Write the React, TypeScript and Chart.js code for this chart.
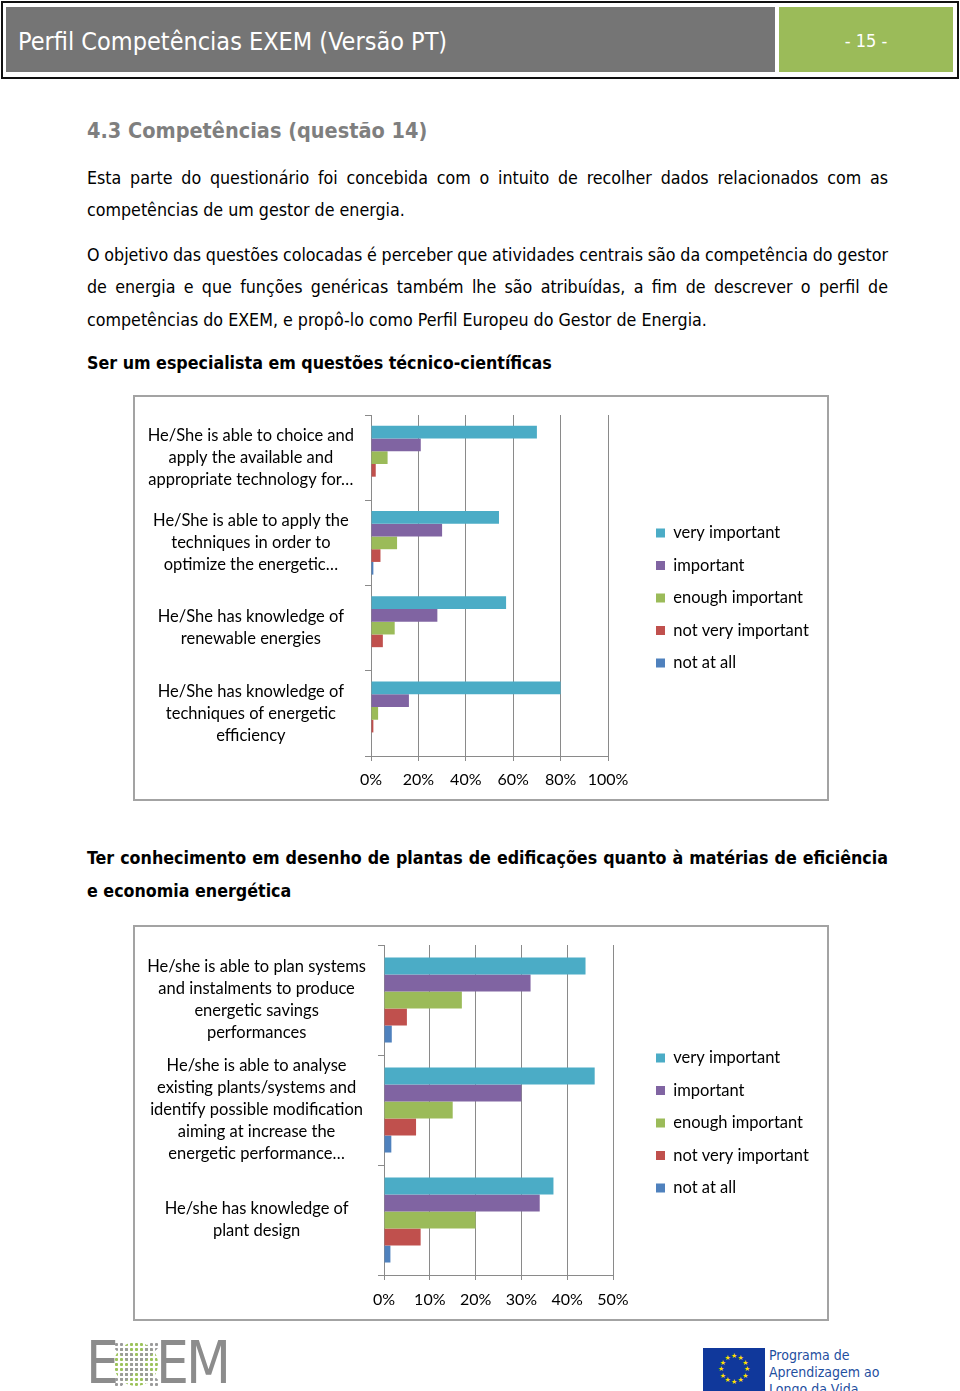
import React, { useEffect, useRef } from "react";
import { Chart, registerables } from "chart.js";

Chart.register(...registerables);

// ---------- data ----------
const SERIES = ["very important", "important", "enough important", "not very important", "not at all"];
const COLORS = ["#4BACC6", "#8064A2", "#9BBB59", "#C0504D", "#4F81BD"];

const CATEGORIES_1 = [
  ["He/She is able to choice and", "apply the available and", "appropriate technology for…"],
  ["He/She is able to apply the", "techniques in order to", "optimize the energetic…"],
  ["He/She has knowledge of", "renewable energies"],
  ["He/She has knowledge of", "techniques of energetic", "efficiency"],
];
const VERY_1 = [70, 54, 57, 80];
const IMPORTANT_1 = [21, 30, 28, 16];
const ENOUGH_1 = [7, 11, 10, 3];
const NOT_VERY_1 = [2, 4, 5, 1];
const NOT_AT_ALL_1 = [0, 1, 0, 0];
const TICKS_1 = [0, 20, 40, 60, 80, 100];

const CATEGORIES_2 = [
  ["He/she is able to plan systems", "and instalments to produce", "energetic savings", "performances"],
  ["He/she is able to analyse", "existing plants/systems and", "identify possible modification", "aiming at increase the", "energetic performance…"],
  ["He/she has knowledge of", "plant design"],
];
const VERY_2 = [44, 46, 37];
const IMPORTANT_2 = [32, 30, 34];
const ENOUGH_2 = [17, 15, 20];
const NOT_VERY_2 = [5, 7, 8];
const NOT_AT_ALL_2 = [1.7, 1.6, 1.4];
const TICKS_2 = [0, 10, 20, 30, 40, 50];

// ---------- chart helpers ----------
const GRID = "#8a8a8a";
const CHART_FONT = "Lato, 'Open Sans', sans-serif";
const LABEL_SIZE = 16.5;
const TICK_SIZE = 16;

type Cfg = {
  labels: string[][];
  values: number[][];
  ticks: number[];
  height: number;
  top: number;
  plotTop: number;
  plotLeft: number;
  plotBottom: number;
  padRight: number;
  catPct: number;
  yPad: number;
  xPad: number;
  legendLeft: number;
  legendCenter: number;
};

function buildConfig(cfg: Cfg): any {
  const legendPad = 32.5 - LABEL_SIZE;
  const placer = {
    id: "legendPlacer",
    afterLayout(chart: any) {
      const lg = chart.legend;
      if (!lg) return;
      lg.left = cfg.legendLeft - legendPad;
      lg.right = chart.width;
      lg.width = lg.right - lg.left;
      lg.top = cfg.legendCenter - LABEL_SIZE / 2 - legendPad;
      lg.bottom = chart.height;
      lg.height = lg.bottom - lg.top;
    },
  };
  return {
    type: "bar",
    data: {
      labels: cfg.labels,
      datasets: SERIES.map((name, i) => ({
        label: name,
        data: cfg.values[i],
        backgroundColor: COLORS[i],
        borderWidth: 0,
        categoryPercentage: cfg.catPct,
        barPercentage: 1,
      })),
    },
    options: {
      indexAxis: "y",
      animation: false,
      responsive: false,
      maintainAspectRatio: false,
      layout: { padding: { top: cfg.plotTop, right: cfg.padRight, bottom: 0, left: 0 } },
      scales: {
        x: {
          min: cfg.ticks[0],
          max: cfg.ticks[cfg.ticks.length - 1],
          afterBuildTicks: (s: any) => {
            s.ticks = cfg.ticks.map((v) => ({ value: v }));
          },
          afterFit: (s: any) => {
            s.height = cfg.height - cfg.plotBottom;
            s.paddingLeft = 0;
            s.paddingRight = 0;
          },
          ticks: {
            callback: (v: any) => v + "%",
            font: { family: CHART_FONT, size: TICK_SIZE },
            color: "#000",
            padding: cfg.xPad,
            maxRotation: 0,
            autoSkip: false,
          },
          grid: { color: GRID, tickLength: 5, drawTicks: true },
          border: { color: GRID },
        },
        y: {
          afterFit: (s: any) => {
            s.width = cfg.plotLeft;
            s.paddingTop = 0;
            s.paddingBottom = 0;
          },
          ticks: {
            crossAlign: "center",
            font: { family: CHART_FONT, size: LABEL_SIZE, lineHeight: "22px" },
            color: "#000",
            padding: cfg.yPad,
            autoSkip: false,
          },
          grid: { drawOnChartArea: false, tickLength: 6, color: GRID, offset: true },
          border: { color: GRID },
        },
      },
      plugins: {
        legend: {
          position: "right",
          align: "start",
          maxWidth: 100,
          labels: {
            boxWidth: 9,
            boxHeight: 9,
            padding: legendPad,
            color: "#000",
            font: { family: CHART_FONT, size: LABEL_SIZE },
          },
        },
        tooltip: { enabled: false },
      },
    },
    plugins: [placer],
  };
}

function BarChart({ cfg }: { cfg: Cfg }) {
  const ref = useRef<HTMLCanvasElement | null>(null);
  useEffect(() => {
    if (!ref.current) return;
    const chart = new Chart(ref.current, buildConfig(cfg));
    return () => chart.destroy();
  }, []);
  return (
    <div
      style={{
        position: "absolute",
        left: 133,
        top: cfg.top - 2,
        width: 692,
        height: cfg.height,
        border: "2px solid #a3a3a3",
        background: "#fff",
      }}
    >
      <canvas ref={ref} width={692} height={cfg.height} style={{ display: "block", width: 692, height: cfg.height }} />
    </div>
  );
}

const CFG_1: Cfg = {
  labels: CATEGORIES_1,
  values: [VERY_1, IMPORTANT_1, ENOUGH_1, NOT_VERY_1, NOT_AT_ALL_1],
  ticks: TICKS_1,
  height: 402,
  top: 397,
  plotTop: 18,
  plotLeft: 236,
  plotBottom: 359,
  padRight: 119,
  catPct: 0.745,
  yPad: 11,
  xPad: 9,
  legendLeft: 521,
  legendCenter: 136,
};

const CFG_2: Cfg = {
  labels: CATEGORIES_2,
  values: [VERY_2, IMPORTANT_2, ENOUGH_2, NOT_VERY_2, NOT_AT_ALL_2],
  ticks: TICKS_2,
  height: 392,
  top: 927,
  plotTop: 18,
  plotLeft: 249,
  plotBottom: 348,
  padRight: 114,
  catPct: 0.773,
  yPad: 12,
  xPad: 10,
  legendLeft: 521,
  legendCenter: 131,
};

// ---------- page text ----------
const BODY_FONT = "'DejaVu Sans Condensed', 'DejaVu Sans', sans-serif";

function Line({
  y,
  text,
  size = 17.7,
  bold = false,
  justify = false,
  color = "#000",
}: {
  y: number;
  text: string;
  size?: number;
  bold?: boolean;
  justify?: boolean;
  color?: string;
}) {
  return (
    <div
      style={{
        position: "absolute",
        left: 87,
        top: y - 12,
        width: 801,
        height: 24,
        lineHeight: "24px",
        fontFamily: BODY_FONT,
        fontSize: size,
        fontWeight: bold ? 700 : 400,
        color,
        whiteSpace: "nowrap",
        wordSpacing: justify ? "-2px" : "normal",
        textAlign: justify ? "justify" : "left",
        textAlignLast: justify ? "justify" : "left",
      } as any}
    >
      {text}
    </div>
  );
}

function EULogo() {
  const stars = [];
  for (let i = 0; i < 12; i++) {
    const a = (i / 12) * Math.PI * 2;
    stars.push(
      <span
        key={i}
        style={{
          position: "absolute",
          left: 31 + Math.sin(a) * 13 - 3,
          top: 21 - Math.cos(a) * 13 - 4,
          fontSize: 7,
          lineHeight: "8px",
          color: "#ffe000",
          fontFamily: "'DejaVu Sans', sans-serif",
        }}
      >
        ★
      </span>
    );
  }
  return (
    <div style={{ position: "absolute", left: 703, top: 1348, width: 62, height: 46, background: "#10389b" }}>{stars}</div>
  );
}

function ExemLogo() {
  const letter: React.CSSProperties = {
    position: "absolute",
    top: 1330,
    fontFamily: "'DejaVu Sans Condensed', sans-serif",
    fontWeight: 300,
    fontSize: 58,
    lineHeight: "66px",
    color: "#8c8c8c",
  };
  return (
    <>
      <div style={{ ...letter, left: 86 }}>E</div>
      <div
        style={{
          position: "absolute",
          left: 114,
          top: 1342,
          width: 44,
          height: 44,
          borderRadius: "50%",
          backgroundImage: "radial-gradient(circle, #9cc35a 1.3px, transparent 1.8px)",
          backgroundSize: "5px 5px",
        }}
      />
      <div
        style={{
          position: "absolute",
          left: 114,
          top: 1342,
          width: 44,
          height: 44,
          backgroundImage: "radial-gradient(circle, #9a9a9a 1.3px, transparent 1.8px)",
          backgroundSize: "5px 5px",
          clipPath:
            "polygon(0 0, 18% 0, 50% 36%, 82% 0, 100% 0, 100% 14%, 64% 50%, 100% 86%, 100% 100%, 82% 100%, 50% 64%, 18% 100%, 0 100%, 0 86%, 36% 50%, 0 14%)",
        }}
      />
      <div style={{ ...letter, left: 156, letterSpacing: -3 }}>EM</div>
    </>
  );
}

export default function App() {
  return (
    <div
      style={{
        position: "absolute",
        left: 0,
        top: 0,
        width: 960,
        height: 1391,
        overflow: "hidden",
        background: "#fff",
      }}
    >
      {/* header */}
      <div style={{ position: "absolute", left: 1, top: 1, width: 954, height: 74, border: "2px solid #111" }} />
      <div style={{ position: "absolute", left: 6, top: 7, width: 769, height: 65, background: "#757575" }} />
      <div
        style={{
          position: "absolute",
          left: 18,
          top: 9,
          height: 65,
          lineHeight: "66px",
          color: "#fff",
          fontFamily: BODY_FONT,
          fontSize: 25,
          whiteSpace: "nowrap",
        }}
      >
        Perfil Competências EXEM (Versão PT)
      </div>
      <div
        style={{
          position: "absolute",
          left: 779,
          top: 7,
          width: 174,
          height: 65,
          background: "#9BBB59",
          color: "#fff",
          fontFamily: BODY_FONT,
          fontSize: 18,
          lineHeight: "68px",
          textAlign: "center",
        }}
      >
        - 15 -
      </div>

      <Line y={131} text="4.3 Competências (questão 14)" size={21.5} bold color="#7f7f7f" />
      <Line
        y={178}
        justify
        text="Esta parte do questionário foi concebida com o intuito de recolher dados relacionados com as"
      />
      <Line y={210} text="competências de um gestor de energia." />
      <Line
        y={255}
        justify
        text="O objetivo das questões colocadas é perceber que atividades centrais são da competência do gestor"
      />
      <Line
        y={287}
        justify
        text="de energia e que funções genéricas também lhe são atribuídas, a fim de descrever o perfil de"
      />
      <Line y={320} text="competências do EXEM, e propô-lo como Perfil Europeu do Gestor de Energia." />
      <Line y={363} bold text="Ser um especialista em questões técnico-científicas" />

      <BarChart cfg={CFG_1} />

      <Line
        y={858}
        bold
        justify
        text="Ter conhecimento em desenho de plantas de edificações quanto à matérias de eficiência"
      />
      <Line y={891} bold text="e economia energética" />

      <BarChart cfg={CFG_2} />

      <ExemLogo />
      <EULogo />
      <div
        style={{
          position: "absolute",
          left: 769,
          top: 1347,
          fontFamily: "'DejaVu Sans Condensed', sans-serif",
          fontSize: 14,
          lineHeight: "17px",
          color: "#1f4f9f",
          whiteSpace: "nowrap",
        }}
      >
        Programa de
        <br />
        Aprendizagem ao
        <br />
        Longo da Vida
      </div>
    </div>
  );
}
